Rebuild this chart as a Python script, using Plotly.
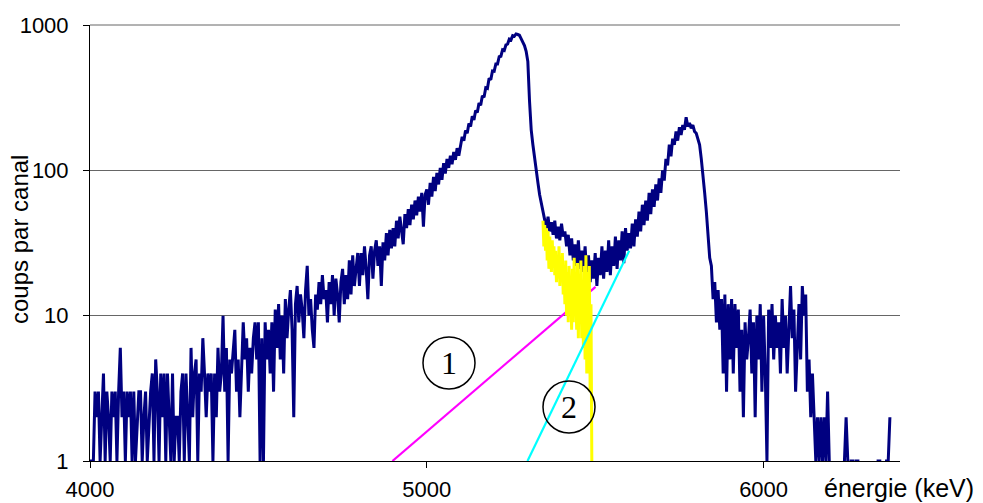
import plotly.graph_objects as go

# Alpha spectrum: counts per channel vs energy (keV)
CHANNEL_START_KEV = 4000
CHANNEL_WIDTH_KEV = 5

counts = (
    # 4000-4095
    [1, 1, 1, 3, 2, 3, 1, 2, 4, 1, 3, 2, 1, 3, 2, 3, 1, 3, 6, 2]
    # 4100-4195
    + [3, 1, 3, 2, 3, 1, 3, 1, 2, 3, 3, 1, 2, 3, 1, 2, 3, 4, 1, 5]
    # 4200-4295
    + [3, 1, 4, 2, 4, 1, 4, 2, 1, 4, 1, 2, 2, 1, 3, 4, 1, 4, 2, 1]
    # 4300-4395
    + [6, 2, 4, 5, 1, 4, 3, 7, 4, 2, 4, 3, 4, 1, 4, 2, 6, 3, 4, 10]
    # 4400-4495
    + [3, 6, 1, 5, 4, 6, 8, 3, 5, 2, 4, 9, 5, 7, 3, 6, 4, 7, 9, 5]
    # 4500-4595
    + [9, 1, 7, 1, 9, 5, 8, 4, 9, 3, 11, 6, 12, 5, 10, 4, 13, 7, 11, 15]
    # 4600-4695
    + [8, 2, 12, 16, 9, 14, 11, 7, 15, 22, 10, 13, 8, 6, 14, 11, 17, 12, 19, 13]
    # 4700-4795
    + [15, 9, 17, 12, 19, 10, 18, 14, 9, 17, 21, 12, 19, 13, 24, 14, 26, 16, 21, 27]
    # 4800-4895
    + [16, 27, 19, 30, 21, 13, 26, 30, 18, 28, 33, 22, 30, 16, 32, 24, 37, 26, 39, 29]
    # 4900-4995
    + [40, 30, 45, 34, 48, 37, 31, 50, 40, 54, 42, 58, 46, 62, 49, 66, 52, 70, 41, 68]
    # 5000-5095
    + [74, 58, 82, 66, 90, 72, 96, 80, 104, 86, 112, 95, 120, 104, 126, 110, 134, 118, 142, 126]
    # 5100-5195
    + [150, 170, 160, 188, 180, 210, 200, 236, 222, 258, 250, 290, 280, 326, 318, 370, 366, 430, 420, 482]
    # 5200-5295
    + [480, 540, 540, 605, 610, 675, 668, 730, 740, 800, 790, 845, 838, 868, 860, 850, 805, 765, 722, 660]
    # 5300-5395
    + [560, 300, 190, 150, 120, 100, 82, 68, 60, 52, 47, 40, 48, 38, 44, 36, 45, 34, 41, 33]
    # 5400-5495
    + [43, 35, 38, 30, 36, 26, 34, 24, 31, 22, 33, 21, 28, 20, 30, 19, 26, 17, 24, 18]
    # 5500-5595
    + [27, 16, 25, 19, 30, 18, 28, 20, 33, 19, 30, 22, 35, 21, 33, 24, 38, 23, 40, 28]
    # 5600-5695
    + [37, 29, 43, 30, 46, 35, 52, 38, 58, 42, 62, 45, 70, 50, 74, 56, 80, 62, 88, 70]
    # 5700-5795
    + [100, 85, 120, 108, 150, 125, 165, 150, 185, 160, 198, 175, 205, 190, 232, 200, 212, 195, 205, 185]
    # 5800-5895
    + [180, 165, 150, 120, 95, 70, 52, 33, 25, 22, 13, 17, 9, 15, 8, 13, 4, 14, 3, 12]
    # 5900-5995
    + [5, 13, 4, 12, 6, 11, 3, 8, 2, 9, 5, 7, 11, 4, 9, 2, 10, 5, 12, 3]
    # 6000-6095
    + [10, 4, 1, 11, 6, 12, 5, 10, 6, 9, 4, 13, 6, 10, 4, 8, 16, 7, 11, 3]
    # 6100-6195
    + [7, 12, 5, 16, 10, 14, 3, 5, 2, 4, 2, 1, 2, 1, 2, 1, 2, 1, 3, 1]
    # 6200-6295
    + [0, 0, 0, 0, 0, 0, 0, 0, 1, 2, 1, 0, 1, 1, 0, 1, 1, 0, 0, 0]
    # 6300-6375
    + [0, 0, 0, 0, 0, 0, 0, 0, 1, 1, 0, 0, 0, 1, 1, 2]
)
energies = [CHANNEL_START_KEV + CHANNEL_WIDTH_KEV * i for i in range(len(counts))]

# Residual counts in the valley between the two peaks
RESIDUAL_START_KEV = 5345
RESIDUAL_STEP_KEV = 2.5
residual = [
    45, 30, 42, 28, 40, 24, 38, 21, 35, 27, 20, 33, 22, 30, 19, 28, 17, 26, 18, 30,
    16, 25, 18, 27, 14, 22, 12, 24, 10, 20, 9, 22, 13, 18, 8, 21, 9, 25, 11, 16,
    8, 23, 7, 19, 10, 24, 7, 15, 6, 22, 5, 26, 4, 20, 4, 22, 3, 12, 1,
]
residual_energies = [RESIDUAL_START_KEV + RESIDUAL_STEP_KEV * i for i in range(len(residual))]

# Exponential tails (straight lines on the log scale)
tail1_energy = [4898, 5501]
tail1_counts = [1, 15.8]
tail2_energy = [5299, 5601]
tail2_counts = [1, 28]

x_ticks = [4000, 5000, 6000]
y_ticks = [1, 10, 100, 1000]
y_ticktext = ["1", "10", "100", "1000"]

FONT = "Liberation Sans, Arial, sans-serif"
GRID = "#666666"

fig = go.Figure()
fig.add_trace(go.Scatter(x=tail1_energy, y=tail1_counts, mode="lines",
                         line=dict(color="#FF00FF", width=2.2), showlegend=False))
fig.add_trace(go.Scatter(x=energies, y=counts, mode="lines",
                         line=dict(color="#000080", width=3), connectgaps=False,
                         showlegend=False))
fig.add_trace(go.Scatter(x=residual_energies, y=residual, mode="lines",
                         line=dict(color="#FFFF00", width=3), showlegend=False))
fig.add_trace(go.Scatter(x=tail2_energy, y=tail2_counts, mode="lines",
                         line=dict(color="#00FFFF", width=2.2), showlegend=False))

# Top gridline at the upper edge of the plotting area (1000 counts)
fig.add_shape(type="line", xref="paper", yref="paper", x0=0, x1=1, y0=1, y1=1,
              line=dict(color=GRID, width=1), layer="below")

# Circled labels for the two tails
PLOT_W, PLOT_H = 810, 436
circles = [("1", 449, 363), ("2", 569, 407)]
R = 26
for label, cx, cy in circles:
    px = (cx - 90) / PLOT_W
    py = (461 - cy) / PLOT_H
    fig.add_shape(type="circle", xref="paper", yref="paper",
                  x0=px - R / PLOT_W, x1=px + R / PLOT_W,
                  y0=py - R / PLOT_H, y1=py + R / PLOT_H,
                  line=dict(color="black", width=1.5))
    fig.add_annotation(x=px, y=py, xref="paper", yref="paper", text=label,
                       showarrow=False, xanchor="center", yanchor="middle",
                       font=dict(family="Liberation Serif, Times New Roman, serif",
                                 size=32, color="black"))

fig.add_annotation(x=(19 - 90) / PLOT_W, y=(461 - 240) / PLOT_H, xref="paper", yref="paper",
                   text="coups par canal", textangle=-90, showarrow=False,
                   xanchor="center", yanchor="middle",
                   font=dict(family=FONT, size=24, color="black"))
fig.add_annotation(x=(822 - 90) / PLOT_W, y=(461 - 488) / PLOT_H, xref="paper", yref="paper",
                   text="énergie (keV)", showarrow=False,
                   xanchor="left", yanchor="middle",
                   font=dict(family=FONT, size=25, color="black"))

fig.update_layout(
    width=983, height=503,
    margin=dict(l=90, r=83, t=25, b=42, autoexpand=False),
    paper_bgcolor="white", plot_bgcolor="white",
    font=dict(family=FONT, size=22, color="black"),
    xaxis=dict(range=[4000, 6405], tickvals=x_ticks, showgrid=False, zeroline=False,
               showline=True, linecolor="black", linewidth=1,
               ticks="outside", ticklen=6, tickcolor="black",
               ticklabelstandoff=3, automargin=False),
    yaxis=dict(type="log", range=[0, 3], tickvals=y_ticks, ticktext=y_ticktext,
               showgrid=True, gridcolor=GRID, gridwidth=1, zeroline=False,
               showline=True, linecolor="black", linewidth=1,
               ticks="outside", ticklen=6, tickcolor="black",
               ticklabelstandoff=10, automargin=False),
)

fig.write_html("out.html")
